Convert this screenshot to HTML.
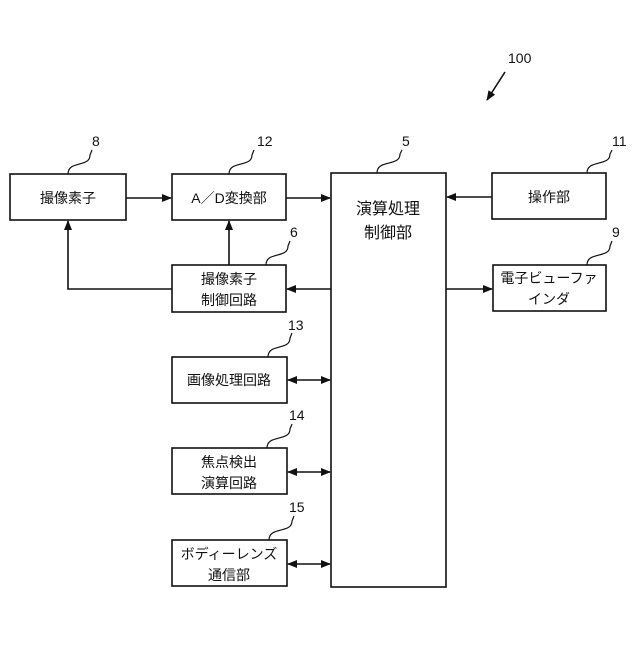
<!DOCTYPE html>
<html><head><meta charset="utf-8"><style>
body{margin:0;background:#fff}
svg text{font-family:"Liberation Sans","Noto Sans CJK JP",sans-serif;fill:#111}
</style></head><body>
<svg width="640" height="640" viewBox="0 0 640 640" xmlns="http://www.w3.org/2000/svg">
<defs>
<marker id="a" markerWidth="10" markerHeight="8" refX="9" refY="4" orient="auto-start-reverse" markerUnits="userSpaceOnUse"><path d="M0,0 L10,4 L0,8 Z" fill="#111"/></marker>
</defs>
<g fill="none" stroke="#111" stroke-width="1.6">
<rect x="10" y="174" width="116" height="46"/>
<rect x="172" y="174" width="114" height="46"/>
<rect x="172" y="265" width="114" height="47"/>
<rect x="331" y="173" width="115" height="414"/>
<rect x="492" y="173" width="114" height="46"/>
<rect x="493" y="265" width="113" height="46"/>
<rect x="172" y="357" width="115" height="46"/>
<rect x="172" y="448" width="115" height="46"/>
<rect x="172" y="540" width="115" height="46"/>
<line x1="126" y1="198" x2="171" y2="198" marker-end="url(#a)"/>
<line x1="286" y1="198" x2="330" y2="198" marker-end="url(#a)"/>
<line x1="492" y1="197" x2="447" y2="197" marker-end="url(#a)"/>
<line x1="331" y1="289" x2="287" y2="289" marker-end="url(#a)"/>
<line x1="446" y1="289" x2="492" y2="289" marker-end="url(#a)"/>
<line x1="288" y1="380" x2="330" y2="380" marker-start="url(#a)" marker-end="url(#a)"/>
<line x1="288" y1="472" x2="330" y2="472" marker-start="url(#a)" marker-end="url(#a)"/>
<line x1="288" y1="564" x2="330" y2="564" marker-start="url(#a)" marker-end="url(#a)"/>
<line x1="229" y1="265" x2="229" y2="221" marker-end="url(#a)"/>
<polyline points="172,289 68,289 68,221" marker-end="url(#a)"/>
<line x1="505" y1="72" x2="487" y2="100" marker-end="url(#a)"/>
<path d="M68,174 C68,160 90,168 90,155 L92,150" stroke-width="1.2"/>
<path d="M229,174 C229,160 252,168 252,155 L254,150" stroke-width="1.2"/>
<path d="M377,173 C377,159 400,167 400,154 L402,150" stroke-width="1.2"/>
<path d="M587,173 C587,159 610,167 610,154 L612,150" stroke-width="1.2"/>
<path d="M266,265 C266,251 288,259 288,246 L290,241" stroke-width="1.2"/>
<path d="M587,265 C587,251 610,259 610,246 L612,241" stroke-width="1.2"/>
<path d="M268,357 C268,343 290,351 290,338 L292,333" stroke-width="1.2"/>
<path d="M267,448 C267,434 290,442 290,429 L292,424" stroke-width="1.2"/>
<path d="M269,540 C269,526 292,534 292,521 L294,516" stroke-width="1.2"/>
</g>
<g font-size="14" text-anchor="middle">
<text x="68" y="203">撮像素子</text>
<text x="229" y="203">A／D変換部</text>
<text x="229" y="284">撮像素子</text>
<text x="229" y="305">制御回路</text>
<text x="388" y="214" font-size="16">演算処理</text>
<text x="388" y="238" font-size="16">制御部</text>
<text x="549" y="202">操作部</text>
<text x="549" y="283">電子ビューファ</text>
<text x="549" y="304">インダ</text>
<text x="229" y="385">画像処理回路</text>
<text x="229" y="467">焦点検出</text>
<text x="229" y="488">演算回路</text>
<text x="229" y="559">ボディーレンズ</text>
<text x="229" y="580">通信部</text>
</g>
<g font-size="14">
<text x="92" y="146">8</text>
<text x="257" y="146">12</text>
<text x="402" y="146">5</text>
<text x="612" y="146">11</text>
<text x="290" y="237">6</text>
<text x="612" y="237">9</text>
<text x="288" y="330">13</text>
<text x="289" y="420">14</text>
<text x="289" y="512">15</text>
<text x="508" y="63">100</text>
</g>
</svg>
</body></html>
